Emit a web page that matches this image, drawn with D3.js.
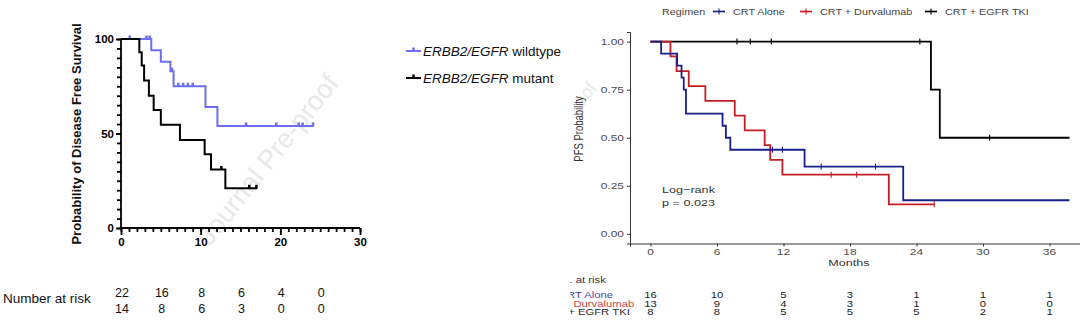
<!DOCTYPE html>
<html><head><meta charset="utf-8">
<script src="https://cdn.jsdelivr.net/npm/d3@7"></script>
<style>body{margin:0;background:#fff}svg{display:block}</style>
</head><body>
<svg id="c" width="1080" height="324"></svg>
<script>
// ---------- Left chart data ----------
const leftXTicks = [0, 10, 20, 30];
const leftYTicks = [0, 50, 100];
const wtTimes = [0, 3.8, 5.0, 6.2, 6.6, 10.6, 12.1];
const wtSurv  = [100, 94, 88, 83, 75, 64, 54];
const wtEnd = 24.2;
const wtCensor = [1.1, 3.2, 3.6, 6.4, 7.2, 7.8, 8.4, 9.0, 15.7, 19.5, 22.3, 22.8, 24.1];
const mtTimes = [0, 2.3, 2.6, 2.9, 3.5, 4.1, 5.0, 7.4, 10.5, 11.3, 13.1];
const mtSurv  = [100, 93, 86, 78, 70, 62.5, 54.6, 46.6, 39, 31, 21];
const mtEnd = 17.1;
const mtCensor = [12.6, 16.1, 17.0];
const leftRiskTimes = [0, 5, 10, 15, 20, 25];
const wtRisk = [22, 16, 8, 6, 4, 0];
const mtRisk = [14, 8, 6, 3, 0, 0];

// ---------- Right chart data ----------
const rightXTicks = [0, 6, 12, 18, 24, 30, 36];
const rightYTicks = [0, 0.25, 0.5, 0.75, 1.0];
const regimens = ["CRT Alone", "CRT + Durvalumab", "CRT + EGFR TKI"];
const aloneTimes = [0, 0.96, 2.4, 2.8, 3.0, 3.2, 6.5, 6.8, 7.2, 13.9, 22.8];
const aloneSurv  = [1, 0.9375, 0.875, 0.8125, 0.75, 0.625, 0.5625, 0.5, 0.4375, 0.35, 0.175];
const aloneEnd = 37.8;
const aloneCensor = [11.0, 11.9, 15.4, 20.3];
const durvaTimes = [0, 1.8, 2.35, 3.45, 4.95, 7.6, 8.5, 10.3, 10.8, 11.9, 21.5];
const durvaSurv  = [1, 0.923, 0.846, 0.769, 0.692, 0.615, 0.538, 0.462, 0.385, 0.308, 0.154];
const durvaEnd = 25.6;
const durvaCensor = [16.3, 18.6, 25.6];
const tkiTimes = [0, 25.3, 26.1];
const tkiSurv  = [1, 0.75, 0.5];
const tkiEnd = 37.8;
const tkiCensor = [7.8, 9.0, 10.9, 24.3, 30.6];
const riskAlone = [16, 10, 5, 3, 1, 1, 1];
const riskDurva = [13, 9, 4, 3, 1, 0, 0];
const riskTki = [8, 8, 5, 5, 5, 2, 1];

const svg = d3.select("#c");
function stepPts(times, surv, end){
  const pts = times.map((t,i)=>[t, surv[i]]);
  pts.push([end, surv[surv.length-1]]);
  return pts;
}
function survAt(times, surv, t){
  let v = surv[0];
  for (let i=0;i<times.length;i++) if (times[i] <= t) v = surv[i];
  return v;
}

// ================= LEFT =================
const lx = d3.scaleLinear().domain([0,30]).range([121,360]);
const ly = d3.scaleLinear().domain([0,100]).range([228,39]);
const L = svg.append("g");
const lfont = "Liberation Sans, Arial, sans-serif";

// watermark
L.append("text").attr("transform","translate(210,247) rotate(-51.5)")
  .attr("font-family",lfont).attr("font-size",27).attr("fill","#e8e8e8")
  .text("Journal Pre-proof");

// axes
const yAxL = d3.axisLeft(ly).tickValues(d3.range(0,101,5)).tickSize(4).tickFormat("");
L.append("g").attr("transform","translate(121,0)").call(yAxL)
  .call(g=>{g.selectAll("path,line").attr("stroke","#000").attr("stroke-width",1.8);
            g.select(".domain").attr("d","M0,"+ly(0)+"V"+ly(100));});
const yAxL2 = d3.axisLeft(ly).tickValues(leftYTicks).tickSize(5).tickPadding(2);
L.append("g").attr("transform","translate(121,0)").call(yAxL2)
  .call(g=>{g.select(".domain").remove();
            g.selectAll("line").attr("stroke","#000").attr("stroke-width",1.8);
            g.selectAll("text").attr("font-family",lfont).attr("font-size",11.5).attr("font-weight","bold").attr("fill","#000");});
const xAxL = d3.axisBottom(lx).tickValues(d3.range(0,31,1)).tickSize(4).tickFormat("");
L.append("g").attr("transform","translate(0,228)").call(xAxL)
  .call(g=>{g.selectAll("path,line").attr("stroke","#000").attr("stroke-width",1.8);
            g.select(".domain").attr("d","M"+lx(0)+",0H"+lx(30));});
const xAxL2 = d3.axisBottom(lx).tickValues(leftXTicks).tickSize(7).tickPadding(3);
L.append("g").attr("transform","translate(0,228)").call(xAxL2)
  .call(g=>{g.select(".domain").remove();
            g.selectAll("line").attr("stroke","#000").attr("stroke-width",1.8);
            g.selectAll("text").attr("font-family",lfont).attr("font-size",11.5).attr("font-weight","bold").attr("fill","#000");});

L.append("text").attr("transform","translate(81,134) rotate(-90)")
  .attr("text-anchor","middle").attr("font-family",lfont).attr("font-size",13)
  .attr("font-weight","bold").attr("fill","#111").text("Probability of Disease Free Survival");

const lline = d3.line().x(d=>lx(d[0])).y(d=>ly(d[1])).curve(d3.curveStepAfter);
const wtCol = "#6e6ef0", mtCol = "#000";
[[wtTimes,wtSurv,wtEnd,wtCensor,wtCol],[mtTimes,mtSurv,mtEnd,mtCensor,mtCol]].forEach(s=>{
  L.append("path").attr("d",lline(stepPts(s[0],s[1],s[2]))).attr("fill","none")
   .attr("stroke",s[4]).attr("stroke-width",2);
  L.selectAll(null).data(s[3]).enter().append("line")
   .attr("x1",d=>lx(d)).attr("x2",d=>lx(d))
   .attr("y1",d=>ly(survAt(s[0],s[1],d))).attr("y2",d=>ly(survAt(s[0],s[1],d))-3.5)
   .attr("stroke",s[4]).attr("stroke-width",2.5);
});

// left legend
const leg = [{y:51, col:wtCol, it:"ERBB2/EGFR", rest:" wildtype"},{y:78, col:mtCol, it:"ERBB2/EGFR", rest:" mutant"}];
leg.forEach(d=>{
  L.append("line").attr("x1",406).attr("x2",421).attr("y1",d.y).attr("y2",d.y).attr("stroke",d.col).attr("stroke-width",2);
  L.append("line").attr("x1",413.5).attr("x2",413.5).attr("y1",d.y).attr("y2",d.y-3.5).attr("stroke",d.col).attr("stroke-width",2.5);
  const t = L.append("text").attr("transform","translate(423,"+(d.y+4.5)+") scale(1.08,1)")
    .attr("font-family",lfont).attr("font-size",12.5).attr("fill","#111");
  t.append("tspan").attr("font-style","italic").text(d.it);
  t.append("tspan").text(d.rest);
});

// left risk table
L.append("text").attr("x",3).attr("y",303).attr("font-family",lfont).attr("font-size",13.5).attr("fill","#111").text("Number at risk");
[[wtRisk,297],[mtRisk,313]].forEach(r=>{
  L.selectAll(null).data(r[0]).enter().append("text")
   .attr("x",(d,i)=>lx(leftRiskTimes[i])+1).attr("y",r[1]).attr("text-anchor","middle")
   .attr("font-family",lfont).attr("font-size",12.5).attr("fill","#111").text(d=>d);
});

// ================= RIGHT =================
const rx = d3.scaleLinear().domain([-1.85,38.75]).range([630,1080]);
const ry = d3.scaleLinear().domain([-0.05,1.05]).range([243.5,32]);
const R = svg.append("g");
const rfont = "Liberation Sans, Arial, sans-serif";
const gray = "#4d4d4d";
const SX = 1.33;   // the right panel's text is drawn wider than tall
function rtext(g, x, y, str, opt){
  opt = opt || {};
  return g.append("text")
    .attr("transform","translate("+x+","+y+") scale("+(opt.sx||SX)+",1)"+(opt.rot?" rotate("+opt.rot+")":""))
    .attr("text-anchor",opt.anchor||"start").attr("font-family",rfont)
    .attr("font-size",opt.size||9).attr("fill",opt.fill||"#333").text(str);
}

R.append("text").attr("transform","translate(582,108) rotate(-52)")
  .attr("font-family",rfont).attr("font-size",18).attr("fill","#e8e8e8").text("oof");

// axes (lines via d3 axis, labels drawn stretched)
const yAxR = d3.axisLeft(ry).tickValues(rightYTicks).tickSize(3).tickFormat("");
R.append("g").attr("transform","translate(630,0)").call(yAxR)
  .call(g=>{g.selectAll("path,line").attr("stroke","#333").attr("stroke-width",1);});
rightYTicks.forEach(v=>rtext(R, 624, ry(v)+3.3, d3.format(".2f")(v), {anchor:"end", fill:gray}));
const xAxR = d3.axisBottom(rx).tickValues(rightXTicks).tickSize(3).tickFormat("");
R.append("g").attr("transform","translate(0,243.5)").call(xAxR)
  .call(g=>{g.selectAll("path,line").attr("stroke","#333").attr("stroke-width",1);});
rightXTicks.forEach(v=>rtext(R, rx(v), 255, String(v), {anchor:"middle", fill:gray}));

R.append("text").attr("transform","translate(583,129) scale(1.3,1) rotate(-90)").attr("text-anchor","middle")
  .attr("font-family",rfont).attr("font-size",9.5).attr("fill","#333").text("PFS Probability");
rtext(R, 849, 266, "Months", {anchor:"middle", size:9.5});

const rCols = ["#1b1f8a", "#c41e24", "#000000"];
const rline = d3.line().x(d=>rx(d[0])).y(d=>ry(d[1])).curve(d3.curveStepAfter);
const rSeries = [[aloneTimes,aloneSurv,aloneEnd,aloneCensor],[durvaTimes,durvaSurv,durvaEnd,durvaCensor],[tkiTimes,tkiSurv,tkiEnd,tkiCensor]];
[2,1,0].forEach(k=>{
  const s = rSeries[k];
  R.append("path").attr("d",rline(stepPts(s[0],s[1],s[2]))).attr("fill","none")
   .attr("stroke",rCols[k]).attr("stroke-width",1.8);
  R.selectAll(null).data(s[3]).enter().append("line")
   .attr("x1",d=>rx(d)).attr("x2",d=>rx(d))
   .attr("y1",d=>ry(survAt(s[0],s[1],d))-3).attr("y2",d=>ry(survAt(s[0],s[1],d))+3)
   .attr("stroke",rCols[k]).attr("stroke-width",1.1);
});

rtext(R, 662, 193, "Log\u2212rank", {size:9.5});
rtext(R, 662, 206, "p = 0.023", {size:9.5});

// right legend
rtext(R, 662, 15, "Regimen", {size:9, sx:1.2, fill:"#444"});
const legX = [713, 800, 925];
regimens.forEach((r,i)=>{
  R.append("line").attr("x1",legX[i]).attr("x2",legX[i]+12).attr("y1",11.5).attr("y2",11.5).attr("stroke",rCols[i]).attr("stroke-width",1.7);
  R.append("line").attr("x1",legX[i]+6).attr("x2",legX[i]+6).attr("y1",8.5).attr("y2",14.5).attr("stroke",rCols[i]).attr("stroke-width",1.1);
  rtext(R, legX[i]+20, 15, r, {size:9, sx:1.2, fill:"#444"});
});

// right risk table (clipped at left edge of the panel)
svg.append("defs").append("clipPath").attr("id","rclip").append("rect").attr("x",570).attr("y",0).attr("width",510).attr("height",324);
const T = svg.append("g").attr("clip-path","url(#rclip)");
rtext(T, 555, 283, "No. at risk", {size:8.5});
const riskRows = [riskAlone, riskDurva, riskTki];
const riskY = [298, 306.5, 315];
regimens.forEach((r,i)=>{
  rtext(T, 586, riskY[i], r, {anchor:"middle", size:8.5, fill:rCols[i]}).attr("opacity",0.85);
  riskRows[i].forEach((v,j)=>rtext(T, rx(rightXTicks[j]), riskY[i], String(v), {anchor:"middle", size:8.5, fill:"#222"}));
});
</script>
</body></html>
